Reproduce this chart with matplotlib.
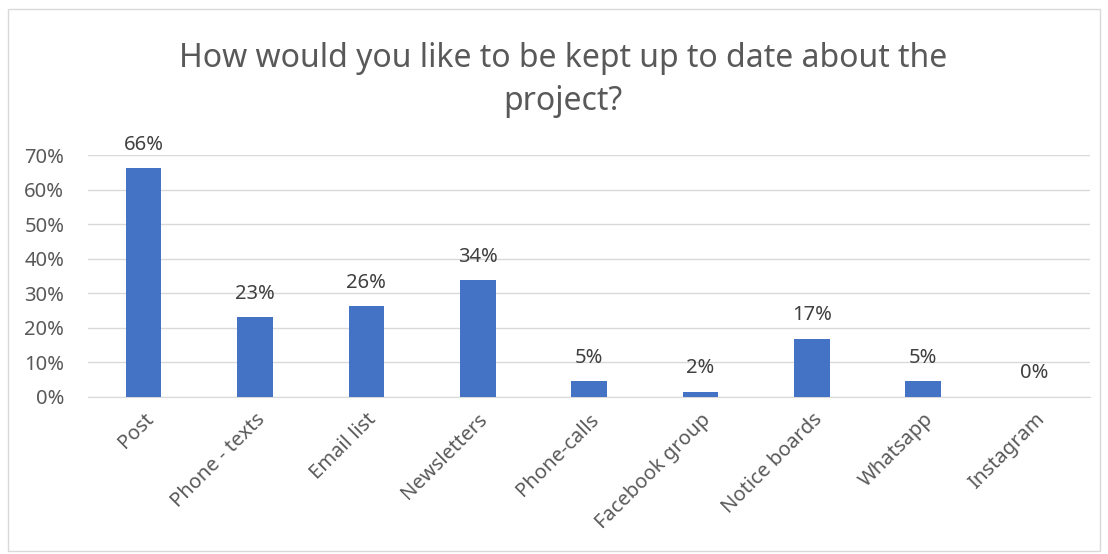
import matplotlib.pyplot as plt
import matplotlib.patches as mpatches
from matplotlib.ticker import PercentFormatter

plt.rcParams['font.family'] = ['Noto Sans', 'DejaVu Sans']

categories = ['Post', 'Phone - texts', 'Email list', 'Newsletters', 'Phone-calls',
              'Facebook group', 'Notice boards', 'Whatsapp', 'Instagram']
values = [0.662, 0.231, 0.262, 0.338, 0.046, 0.015, 0.169, 0.046, 0.0]
labels = ['66%', '23%', '26%', '34%', '5%', '2%', '17%', '5%', '0%']

fig = plt.figure(figsize=(11.08, 5.54), dpi=100)
fig.patches.append(mpatches.Rectangle((0.007, 0.005), 0.986, 0.978, transform=fig.transFigure,
                                      fill=False, edgecolor='#d9d9d9', linewidth=1))
ax = fig.add_axes([0.0794, 0.2834, 0.9046, 0.4368])

x = range(len(categories))
ax.bar(x, values, width=0.32, color='#4472C4', zorder=3)
for i, v in enumerate(values):
    ax.text(i, v + 0.068, labels[i], ha='center', va='center', fontsize=14.5,
            color='#404040', clip_on=False)

ax.set_ylim(0, 0.7)
ax.set_xlim(-0.5, len(categories) - 0.5)
ax.set_yticks([0, 0.1, 0.2, 0.3, 0.4, 0.5, 0.6, 0.7])
ax.yaxis.set_major_formatter(PercentFormatter(1.0, decimals=0))
ax.grid(axis='y', color='#d9d9d9', linewidth=1, zorder=0)
for s in ['top', 'right', 'left']:
    ax.spines[s].set_visible(False)
ax.spines['bottom'].set_color('#d9d9d9')
ax.tick_params(axis='both', length=0, labelsize=14.5, labelcolor='#595959')
ax.tick_params(axis='y', pad=17)
ax.set_xticks(list(x))
ax.set_xticklabels(categories, rotation=45, ha='right', rotation_mode='anchor')
ax.tick_params(axis='x', pad=9)

fig.text(0.508, 0.856, 'How would you like to be kept up to date about the\nproject?',
         ha='center', va='center', fontsize=23, color='#595959', linespacing=1.4)

fig.savefig('out.png', dpi=100)
